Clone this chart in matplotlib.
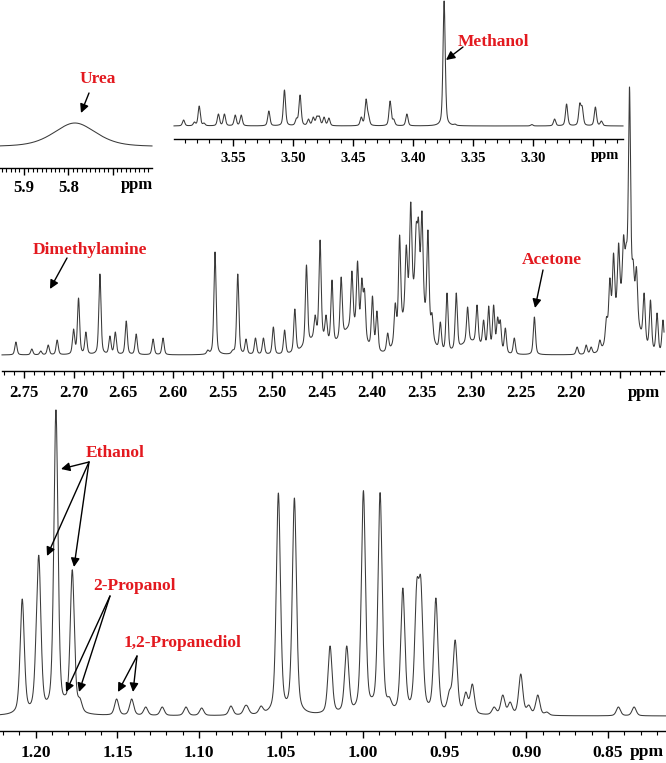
import numpy as np
import matplotlib.pyplot as plt
from matplotlib.patches import FancyArrowPatch
from matplotlib.ticker import FixedLocator, MultipleLocator

plt.rcParams['font.family'] = ['Liberation Serif', 'DejaVu Serif']
plt.rcParams['font.weight'] = 'bold'

W, H = 666, 763

# --- peak tables (ppm, relative intensity) ---
urea_ppm = [5.785]
urea_int = [24]

meoh_ppm = [3.591, 3.582, 3.578, 3.574, 3.562, 3.557, 3.548, 3.543, 3.520, 3.507,
            3.497, 3.494, 3.487, 3.483, 3.480, 3.478, 3.474, 3.470, 3.443, 3.439,
            3.437, 3.419, 3.416, 3.405, 3.374, 3.365, 3.301, 3.282, 3.272, 3.261,
            3.259, 3.248, 3.243]
meoh_int = [6, 4, 20, 3, 12, 12, 11, 11, 15, 36,
            8, 31, 7, 9, 10, 10, 9, 8, 9, 27,
            12, 25, 7, 12, 125, 2, 1.5, 7, 22, 23,
            20, 19, 5]

mid_ppm = [2.758, 2.742, 2.733, 2.7255, 2.7165, 2.700, 2.695, 2.6876, 2.6735, 2.6634,
           2.658, 2.647, 2.637, 2.620, 2.610, 2.565, 2.5577, 2.540, 2.5348, 2.5265,
           2.517, 2.509, 2.499, 2.4877, 2.4774, 2.4657, 2.457, 2.452, 2.446, 2.440,
           2.4308, 2.420, 2.4143, 2.410, 2.4073, 2.3993, 2.3948, 2.384, 2.3764, 2.372,
           2.3653, 2.3608, 2.3553, 2.353, 2.3495, 2.3435, 2.3394, 2.331, 2.3243, 2.315,
           2.3036, 2.2941, 2.2875, 2.2824, 2.2774, 2.2734, 2.2707, 2.2656, 2.2566, 2.2364,
           2.1934, 2.1843, 2.1793, 2.1706, 2.1639, 2.1605, 2.1568, 2.1517, 2.1467, 2.144,
           2.1407, 2.137, 2.1337, 2.126, 2.1196, 2.113, 2.107]
mid_int = [13, 6, 4, 10, 15, 26, 57, 23, 81, 19,
           23, 34, 21, 16, 17, 5, 103, 5, 81, 16,
           17, 17, 28, 25, 46, 90, 40, 115, 40, 75,
           78, 84, 94, 77, 66, 59, 44, 22, 52, 120,
           110, 153, 132, 137, 144, 125, 42, 33, 62, 62,
           48, 50, 35, 49, 50, 38, 35, 27, 17, 38,
           8, 10, 8, 15, 38, 77, 102, 112, 120, 112,
           268, 95, 88, 62, 55, 42, 35]
# broad envelopes under the crowded multiplets
mid_hump_ppm = [2.455, 2.42, 2.357, 2.30, 2.145]
mid_hump_int = [15, 25, 55, 12, 55]

low_ppm = [1.2082, 1.1994, 1.198, 1.1876, 1.1819, 1.1776, 1.1729, 1.1505, 1.1413, 1.1327,
           1.1226, 1.1081, 1.0985, 1.0806, 1.0720, 1.0706, 1.0622, 1.0516, 1.0418, 1.020,
           1.0098, 0.9996, 0.9945, 0.9894, 0.9837, 0.9755, 0.967, 0.9645, 0.9553, 0.9470,
           0.9435, 0.9370, 0.9330, 0.9197, 0.9144, 0.9099, 0.9034, 0.8985, 0.8930, 0.8875,
           0.8437, 0.8341]
low_int = [117, 110, 160, 306, 17, 146, 18, 17, 17, 9,
           9, 9, 8, 10, 10, 10, 10, 223, 218, 70,
           70, 225, 8, 223, 19, 128, 135, 138, 118, 26,
           76, 24, 32, 9, 21, 14, 42, 11, 21, 4,
           9, 9]

urea_ticks, urea_labels = [5.9, 5.8, 5.7], ['5.9', '5.8', '']
meoh_ticks = [3.55, 3.50, 3.45, 3.40, 3.35, 3.30, 3.25]
meoh_labels = ['3.55', '3.50', '3.45', '3.40', '3.35', '3.30', '']
mid_ticks = [2.75, 2.70, 2.65, 2.60, 2.55, 2.50, 2.45, 2.40, 2.35, 2.30, 2.25, 2.20, 2.15]
mid_labels = ['2.75', '2.70', '2.65', '2.60', '2.55', '2.50', '2.45', '2.40', '2.35',
              '2.30', '2.25', '2.20', '']
low_ticks = [1.20, 1.15, 1.10, 1.05, 1.00, 0.95, 0.90, 0.85]
low_labels = ['1.20', '1.15', '1.10', '1.05', '1.00', '0.95', '0.90', '0.85']


def shape(d, fwhm, eta=0.45):
    # pseudo-Voigt line shape, 1 at the centre
    u = d / (fwhm / 2)
    return eta / (1 + u ** 2) + (1 - eta) * np.exp(-np.log(2) * u ** 2)


def spectrum(x, centers, heights, fwhm, hump_c=(), hump_h=(), hump_w=0.025):
    c = np.asarray(centers, float)
    h = np.asarray(heights, float)
    hc = np.asarray(hump_c, float)
    hh = np.asarray(hump_h, float)

    def env(z):
        return (hh[None, :] * np.exp(-np.log(2) * ((z[:, None] - hc[None, :]) / (hump_w / 2)) ** 2)).sum(axis=1)

    # amplitudes such that the summed curve passes through the read peak heights
    A = shape(c[:, None] - c[None, :], fwhm)
    amp = np.clip(np.linalg.solve(A, h - env(c)), 0.25 * h, None)
    return (amp[None, :] * shape(x[:, None] - c[None, :], fwhm)).sum(axis=1) + env(x)


fig = plt.figure(figsize=(W / 100, H / 100), dpi=100)


def panel(l, r, axis_y, top_y, gap, xlim, y, ticks, labels, fsize, pad, x):
    ax = fig.add_axes([l / W, 1 - axis_y / H, (r - l) / W, (axis_y - top_y) / H])
    ax.patch.set_alpha(0)
    ax.plot(x, y, color='#3a3a3a', lw=0.75, clip_on=False)
    ax.set_xlim(*xlim)
    ax.set_ylim(-gap, axis_y - top_y - gap)
    for s in ['top', 'left', 'right']:
        ax.spines[s].set_visible(False)
    ax.spines['bottom'].set_linewidth(1.0)
    ax.set_yticks([])
    ax.xaxis.set_major_locator(FixedLocator(ticks))
    ax.set_xticklabels(labels)
    ax.xaxis.set_minor_locator(MultipleLocator(0.01))
    ax.tick_params(axis='x', which='major', direction='out', length=5, width=1,
                   labelsize=fsize, pad=pad)
    ax.tick_params(axis='x', which='minor', direction='out', length=3, width=0.8)
    return ax


x1 = np.linspace(5.954, 5.611, 3000)
panel(0, 152, 168, 108, 21, (5.954, 5.611),
      spectrum(x1, urea_ppm, urea_int, 0.113), urea_ticks, urea_labels, 12, 4, x1)
x2 = np.linspace(3.599, 3.225, 6000)
panel(174, 623, 139, 0, 13, (3.599, 3.225),
      spectrum(x2, meoh_ppm, meoh_int, 0.0022), meoh_ticks, meoh_labels, 10.5, 4, x2)
x3 = np.linspace(2.772, 2.106, 8000)
panel(2, 664, 371, 87, 16, (2.772, 2.106),
      spectrum(x3, mid_ppm, mid_int, 0.0026, mid_hump_ppm, mid_hump_int),
      mid_ticks, mid_labels, 12, 5, x3)
x4 = np.linspace(1.2218, 0.8146, 6000)
panel(0, 666, 730.7, 410, 14.7, (1.2218, 0.8146),
      spectrum(x4, low_ppm, low_int, 0.0030), low_ticks, low_labels, 12.5, 5, x4)


def fp(x, y):
    return (x / W, 1 - y / H)


for x, y, s in [(137, 185, 12), (605, 155, 10.5), (644, 393, 12), (647, 752, 12.5)]:
    fig.text(*fp(x, y), 'ppm', ha='center', va='center', fontsize=s, fontweight='bold')

red = '#e3191f'
arrow = dict(arrowstyle='-|>', color='black', lw=1.0, mutation_scale=13, shrinkA=0, shrinkB=0)


def label(text, pos, sources, tips):
    fig.text(*fp(*pos), text, ha='center', va='center', fontsize=12.5,
             fontweight='bold', color=red)
    for src, tip in zip(sources, tips):
        fig.add_artist(FancyArrowPatch(fp(*src), fp(*tip), transform=fig.transFigure, **arrow))


label('Urea', (98, 79), [(89, 93)], [(81, 113)])
label('Methanol', (493, 42), [(463, 47)], [(446, 60)])
label('Dimethylamine', (90, 250), [(67, 258)], [(50, 289)])
label('Acetone', (552, 260), [(543, 270)], [(535, 308)])
label('Ethanol', (115, 453), [(89, 462), (89, 462), (89, 462)],
      [(61, 469), (47, 556), (74, 567)])
label('2-Propanol', (135, 586), [(110, 596), (110, 596)], [(66, 692), (79, 692)])
label('1,2-Propanediol', (183, 643), [(137, 656), (137, 656)], [(118, 692), (133, 692)])

fig.savefig('out.png', dpi=100)
